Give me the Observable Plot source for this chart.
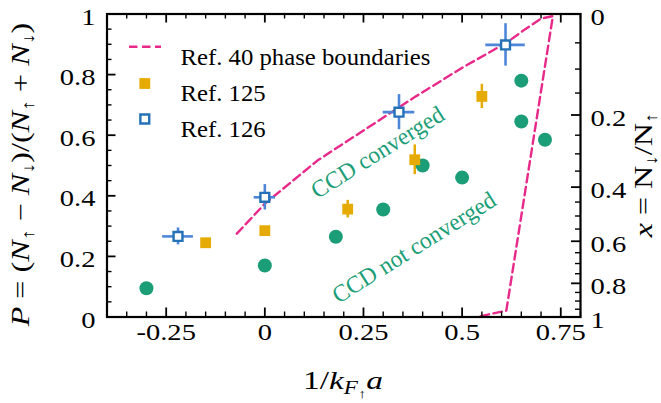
<!DOCTYPE html>
<html><head><meta charset="utf-8">
<script src="https://cdn.jsdelivr.net/npm/d3@7"></script>
<script src="https://cdn.jsdelivr.net/npm/@observablehq/plot@0.6"></script>
<style>
body{margin:0;background:#fff;}
#chart{width:661px;height:403px;}
svg{font-family:"Liberation Serif",serif;}
</style></head><body><div id="chart"></div>
<script>
// ---- data ----
const ccdX = [-0.3, 0, 0.18, 0.3, 0.4, 0.5, 0.65, 0.65, 0.71];
const ccdP = [0.095, 0.17, 0.265, 0.355, 0.5, 0.46, 0.78, 0.645, 0.585];
const ref125X = [-0.15, 0, 0.21, 0.38, 0.55];
const ref125P = [0.245, 0.285, 0.356, 0.519, 0.728];
const ref125PErr = [0.01, 0.01, 0.029, 0.049, 0.04];
const ref126X = [-0.22, 0, 0.34, 0.61];
const ref126P = [0.266, 0.395, 0.676, 0.898];
const ref126XErr = [0.039, 0.027, 0.04, 0.05];
const ref126PErr = [0.028, 0.042, 0.058, 0.07];
const boundaryX = [-0.071, 0, 0.134, 0.379, 0.502, 0.612, 0.66, 0.70, 0.73, 0.612, 0.536];
const boundaryP = [0.275, 0.374, 0.517, 0.725, 0.824, 0.905, 0.95, 0.985, 0.993, 0.021, 0];
const xTicks = [-0.25, 0, 0.25, 0.5, 0.75];
const xTickLabels = ["-0.25", "0", "0.25", "0.5", "0.75"];
const pTicks = [0, 0.2, 0.4, 0.6, 0.8, 1];
const pTickLabels = ["0", "0.2", "0.4", "0.6", "0.8", "1"];
const ratioTicks = [0, 0.2, 0.4, 0.6, 0.8, 1];
const ratioTickLabels = ["0", "0.2", "0.4", "0.6", "0.8", "1"];
const legendLabels = ["Ref. 40 phase boundaries", "Ref. 125", "Ref. 126"];
const regionLabels = ["CCD converged", "CCD not converged"];
const regionX = [0.286, 0.378];
const regionP = [0.543, 0.229];

// ---- layout ----
const W = 661, H = 403, mL = 106.5, mR = 81, mT = 13.5, mB = 86.5;
const fw = W - mL - mR, fh = H - mT - mB;
const FONT = "Liberation Serif";
const PINK = "#e7298a", GREEN = "#1b9e77", ORANGE = "#e6ab02", BLUE = "#2471b8", BLUEERR = "#4e86d9";
const toP = r => (1 - r) / (1 + r);
const xMinor = d3.range(-0.4, 0.8001, 0.05).map(v => +v.toFixed(2)).filter(v => !xTicks.some(t => Math.abs(t - v) < 1e-6));
const pMinor = d3.range(0, 1.0001, 0.05).map(v => +v.toFixed(2)).filter(v => !pTicks.some(t => Math.abs(t - v) < 1e-6));
const rMinor = d3.range(0, 1.0001, 0.05).map(v => +v.toFixed(2)).filter(v => !ratioTicks.some(t => Math.abs(t - v) < 1e-6));
const i125 = d3.range(ref125X.length), i126 = d3.range(ref126X.length), iccd = d3.range(ccdX.length), ib = d3.range(boundaryX.length);

const MAJ = 9, MIN = 5;
const plot = Plot.plot({
  width: W, height: H,
  marginLeft: mL, marginRight: mR, marginTop: mT, marginBottom: mB,
  x: {domain: [-0.4, 0.8], axis: null},
  y: {domain: [0, 1], axis: null},
  style: {fontFamily: FONT, background: "white"},
  marks: [
    Plot.line(ib, {x: i => boundaryX[i], y: i => boundaryP[i], stroke: PINK, strokeWidth: 2.4, strokeDasharray: "8.5,4.5"}),
    Plot.ruleX(i125, {x: i => ref125X[i], y1: i => ref125P[i] - ref125PErr[i], y2: i => ref125P[i] + ref125PErr[i], stroke: ORANGE, strokeWidth: 2.5}),
    Plot.ruleX(i126, {x: i => ref126X[i], y1: i => ref126P[i] - ref126PErr[i], y2: i => ref126P[i] + ref126PErr[i], stroke: BLUEERR, strokeWidth: 2.6}),
    Plot.ruleY(i126, {y: i => ref126P[i], x1: i => ref126X[i] - ref126XErr[i], x2: i => ref126X[i] + ref126XErr[i], stroke: BLUEERR, strokeWidth: 2.6}),
    Plot.dot(iccd, {x: i => ccdX[i], y: i => ccdP[i], r: 7, fill: GREEN}),
    Plot.dot(i125, {x: i => ref125X[i], y: i => ref125P[i], symbol: "square", r: 6.1, fill: ORANGE}),
    Plot.dot(i126, {x: i => ref126X[i], y: i => ref126P[i], symbol: "square", r: 5, fill: "white", stroke: BLUE, strokeWidth: 2.4}),
    Plot.text(regionLabels, {x: (d, i) => regionX[i], y: (d, i) => regionP[i], text: d => d, rotate: -32, fill: GREEN, fontSize: 24, fontFamily: FONT, ariaDescription: "region"}),
    Plot.text([legendLabels[0]], {frameAnchor: "top-left", dx: 73.5, dy: 33.5, text: d => d, textAnchor: "start", fontSize: 24, fontFamily: FONT, fill: "black", ariaDescription: "legendtext"}),
    Plot.text([legendLabels[1]], {frameAnchor: "top-left", dx: 73.5, dy: 69.5, text: d => d, textAnchor: "start", fontSize: 24, fontFamily: FONT, fill: "black", ariaDescription: "legendtext"}),
    Plot.text([legendLabels[2]], {frameAnchor: "top-left", dx: 73.5, dy: 105.5, text: d => d, textAnchor: "start", fontSize: 24, fontFamily: FONT, fill: "black", ariaDescription: "legendtext"}),
    Plot.dot([0], {frameAnchor: "top-left", dx: 37.8, dy: 69.5, symbol: "square", r: 6.1, fill: ORANGE}),
    Plot.dot([0], {frameAnchor: "top-left", dx: 37.8, dy: 105, symbol: "square", r: 5, fill: "white", stroke: BLUE, strokeWidth: 2.4}),
    Plot.tickX(xTicks, {x: d => d, insetTop: fh - MAJ, stroke: "black", strokeWidth: 1.8}),
    Plot.tickX(xMinor, {x: d => d, insetTop: fh - MIN, stroke: "black", strokeWidth: 1.4}),
    Plot.tickX(xTicks, {x: d => d, insetBottom: fh - MAJ, stroke: "black", strokeWidth: 1.8}),
    Plot.tickX(xMinor, {x: d => d, insetBottom: fh - MIN, stroke: "black", strokeWidth: 1.4}),
    Plot.tickY(pTicks, {y: d => d, insetRight: fw - MAJ, stroke: "black", strokeWidth: 1.8}),
    Plot.tickY(pMinor, {y: d => d, insetRight: fw - MIN, stroke: "black", strokeWidth: 1.4}),
    Plot.tickY(ratioTicks, {y: d => toP(d), insetLeft: fw - MAJ, stroke: "black", strokeWidth: 1.8}),
    Plot.tickY(rMinor, {y: d => toP(d), insetLeft: fw - MIN, stroke: "black", strokeWidth: 1.4}),
    Plot.text(xTicks, {x: d => d, text: (d, i) => xTickLabels[i], frameAnchor: "bottom", dy: 22.5, fontSize: 24, fontFamily: FONT, fill: "black", ariaDescription: "ticklabels"}),
    Plot.text(pTicks, {y: d => d, text: (d, i) => pTickLabels[i], frameAnchor: "left", dx: -11.5, dy: 3, textAnchor: "end", fontSize: 24, fontFamily: FONT, fill: "black", ariaDescription: "ticklabels"}),
    Plot.text(ratioTicks, {y: d => toP(d), text: (d, i) => ratioTickLabels[i], frameAnchor: "right", dx: 10, dy: 3, textAnchor: "start", fontSize: 24, fontFamily: FONT, fill: "black", ariaDescription: "ticklabels"}),
    Plot.frame({stroke: "black", strokeWidth: 2.2})
  ]
});
document.getElementById("chart").appendChild(plot);
const svg = d3.select(plot);

// stretch a text element along its own baseline by factor s (keeps Plot's em offsets)
function stretch(el, s) {
  const t = el.getAttribute("transform") || "";
  el.setAttribute("transform", `${t} scale(${s},1)`);
}
function fit(desc, idx, target) {
  const nodes = svg.selectAll(`g[aria-description="${desc}"] text`).nodes();
  if (!nodes.length || !nodes[idx]) return;
  const w = nodes[idx].getBBox().width;
  if (!(w > 0)) return;
  const s = target / w;
  nodes.forEach(el => stretch(el, s));
}
fit("ticklabels", 2, 50);     // reference "0.25" ≈ 50px wide
fit("legendtext", 0, 250);    // "Ref. 40 phase boundaries" ≈ 250px
fit("region", 0, 152);        // "CCD converged" ≈ 152px along baseline

// legend line sample
svg.append("line").attr("x1", 129).attr("x2", 161).attr("y1", 46.7).attr("y2", 46.7)
  .attr("stroke", PINK).attr("stroke-width", 2.4).attr("stroke-dasharray", "8.5,4.5");

// axis titles with subscripts, sized to the reference's extents
function title(parts, transform, fs, target) {
  const t = svg.append("text").attr("text-anchor", "middle")
    .attr("font-family", FONT).attr("font-size", fs).attr("fill", "black");
  for (const p of parts) {
    const s = t.append("tspan").text(p.t);
    if (p.i) s.attr("font-style", "italic");
    if (p.fs) s.attr("font-size", p.fs);
    if (p.dy) s.attr("dy", p.dy);
  }
  const w = t.node().getBBox().width;
  const s = w > 0 ? target / w : 1;
  t.attr("transform", `${transform} scale(${s},1)`);
  return t;
}
title([
  {t: "1/"}, {t: "k", i: 1}, {t: "F", i: 1, fs: 18, dy: 5}, {t: "↑", fs: 13, dy: 4}, {t: "a", i: 1, dy: -9}
], "translate(343,389)", 26, 80);

title([
  {t: "P", i: 1}, {t: " = ("}, {t: "N", i: 1}, {t: "↑", fs: 17, dy: 5}, {t: " − ", dy: -5}, {t: "N", i: 1}, {t: "↓", fs: 17, dy: 5},
  {t: ")/(", dy: -5}, {t: "N", i: 1}, {t: "↑", fs: 17, dy: 5}, {t: " + ", dy: -5}, {t: "N", i: 1}, {t: "↓", fs: 17, dy: 5}, {t: ")", dy: -5}
], "translate(28.5,174.5) rotate(-90)", 25, 305);

title([
  {t: "x", i: 1}, {t: " = N"}, {t: "↓", fs: 17, dy: 5}, {t: "/N", dy: -5}, {t: "↑", fs: 17, dy: 5}
], "translate(652,175) rotate(-90)", 26, 126);
</script></body></html>
